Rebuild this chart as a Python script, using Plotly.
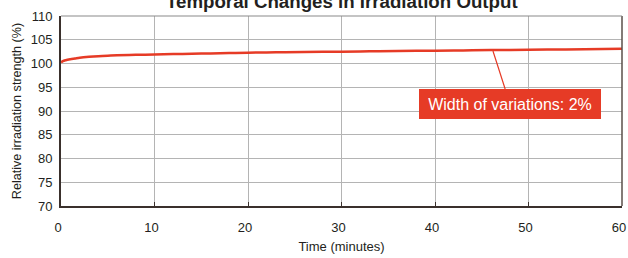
import plotly.graph_objects as go

time_min = [0, 0.2, 0.5, 1, 1.5, 2, 3, 4, 5, 6, 8, 10, 12, 14, 16, 18, 20, 23, 26, 30, 33, 36, 40, 43, 46, 50, 53, 56, 60]
strength = [100.2, 100.5, 100.7, 100.9, 101.05, 101.2, 101.4, 101.55, 101.65, 101.72, 101.82, 101.9, 101.98, 102.05, 102.12, 102.2, 102.28, 102.35, 102.42, 102.5, 102.56, 102.62, 102.7, 102.76, 102.82, 102.9, 102.95, 103.0, 103.08]

x_ticks = [0, 10, 20, 30, 40, 50, 60]
y_ticks = [70, 75, 80, 85, 90, 95, 100, 105, 110]

title_text = "Temporal Changes in Irradiation Output"
callout_text = "Width of variations: 2%"
red = "#E63B26"
font = "Liberation Sans, Arial, sans-serif"

fig = go.Figure()
fig.add_trace(go.Scatter(x=time_min, y=strength, mode="lines",
                         line=dict(color=red, width=2.5, shape="spline"),
                         showlegend=False, hoverinfo="skip"))

fig.update_layout(
    width=628, height=258,
    margin=dict(l=61, r=6, t=16, b=52, autoexpand=False),
    paper_bgcolor="white", plot_bgcolor="white",
    font=dict(family=font, size=13, color="#231f20"),
    showlegend=False,
)
fig.update_xaxes(range=[0, 60], tickvals=x_ticks, showgrid=True, gridcolor="#b4b4b4", gridwidth=1.2,
                 showline=True, linecolor="#3a302c", linewidth=2, mirror=False,
                 ticks="inside", ticklen=4, tickcolor="#3a302c", zeroline=False,
                 tickfont=dict(size=13), ticklabelstandoff=8, ticklabelshift=-3, automargin=False,
                 ticklabeloverflow="allow",
                 title=dict(text="Time (minutes)", font=dict(size=13), standoff=8))
fig.update_yaxes(range=[70, 110], tickvals=y_ticks, showgrid=True, gridcolor="#b4b4b4", gridwidth=1.2,
                 showline=True, linecolor="#3a302c", linewidth=2, automargin=False,
                 ticks="", zeroline=False, tickfont=dict(size=13), ticklabelstandoff=4,
                 title=dict(text="Relative irradiation strength (%)", font=dict(size=12.6), standoff=6))

# right and top border
fig.add_shape(type="line", xref="paper", yref="paper", x0=1, x1=1, y0=0, y1=1,
              line=dict(color="#5a4f4a", width=1.5))
fig.add_shape(type="line", xref="paper", yref="paper", x0=0, x1=1, y0=1, y1=1,
              line=dict(color="#8a8a8a", width=1.2))

fig.add_annotation(xref="paper", yref="paper", x=0.5, y=1.075, text="<b>" + title_text + "</b>",
                   showarrow=False, font=dict(size=18.7, color="#231f20"), yanchor="middle")

fig.add_annotation(x=46.2, y=102.63, xref="x", yref="y", text=callout_text,
                   showarrow=True, arrowhead=0, arrowwidth=1.2, arrowcolor=red,
                   ax=17, ay=53, bgcolor=red, font=dict(color="white", size=16),
                   width=180, height=28, borderpad=1, borderwidth=0)

fig.write_html("out.html", config={"displayModeBar": False},
               post_script="document.body.style.margin='0';document.body.style.overflow='hidden';")
